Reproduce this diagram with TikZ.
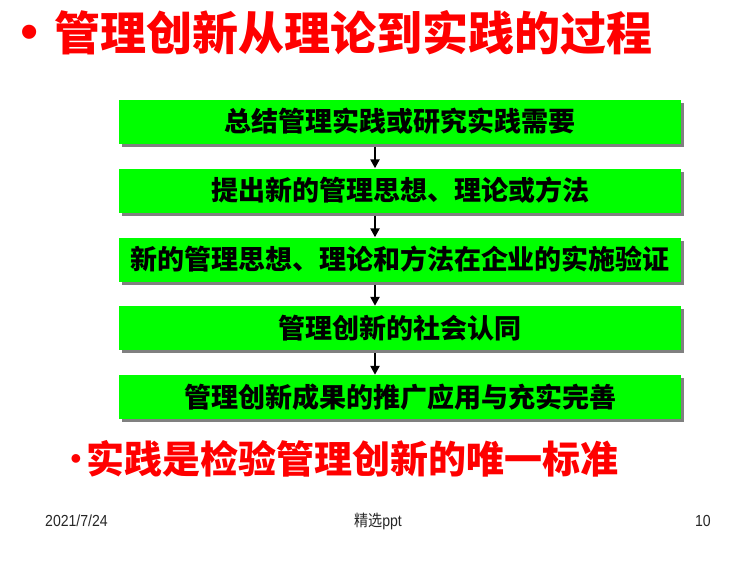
\documentclass[tikz,border=0pt]{standalone}
\usepackage{fontspec}
\setmainfont{Liberation Sans}
\newfontfamily\cjk{Noto Sans CJK SC}
\usetikzlibrary{arrows.meta}
\begin{document}
\begin{tikzpicture}[x=1pt,y=-1pt,
  stepbox/.style={minimum width=562pt,minimum height=44pt,fill=green,inner sep=0pt,
    font=\cjk\bfseries\fontsize{27}{27}\selectfont,text=black},
  shadowbox/.style={fill=black!50},
  flowarrow/.style={-{Triangle[length=9pt,width=9pt]},line width=2.4pt,black},
  foot/.style={font=\fontsize{16}{16}\selectfont,text=black!85,inner sep=0pt,xscale=0.88,transform shape}]
\useasboundingbox (0,0) rectangle (750,562);
% title
\node[text=red,font=\fontsize{52}{52}\selectfont,inner sep=0pt] (tb) at (30,37) {•};
\node[text=red,font=\cjk\bfseries\fontsize{46}{46}\selectfont,anchor=west,inner sep=0pt] (title) at (54,33) {管理创新从理论到实践的过程};
% boxes
\foreach \n/\y in {1/121.5,2/190.5,3/259.5,4/328,5/397}{
  \fill[shadowbox] (122,\y-22+3) rectangle (684,\y+22+3);
}
\node[stepbox] (b1) at (400,121.5) {总结管理实践或研究实践需要};
\node[stepbox] (b2) at (400,190.5) {提出新的管理思想、理论或方法};
\node[stepbox] (b3) at (400,259.5) {新的管理思想、理论和方法在企业的实施验证};
\node[stepbox] (b4) at (400,328) {管理创新的社会认同};
\node[stepbox] (b5) at (400,397) {管理创新成果的推广应用与充实完善};
\foreach \a/\b in {b1/b2,b2/b3,b3/b4,b4/b5}{
  \draw[flowarrow] (\a.south -| 375,0) ++(0,3) -- (\b.north -| 375,0);
}
% conclusion
\node[text=red,font=\fontsize{32}{32}\selectfont,inner sep=0pt] (cb) at (76,462) {•};
\node[text=red,font=\cjk\bfseries\fontsize{38}{38}\selectfont,anchor=west,inner sep=0pt] (concl) at (86,459) {实践是检验管理创新的唯一标准};
% footer
\node[foot,anchor=west] (date) at (45,521) {2021/7/24};
\node[foot] (mid) at (378,521) {{\cjk 精选}ppt};
\node[foot,anchor=east] (pg) at (711,521) {10};
\end{tikzpicture}
\end{document}
